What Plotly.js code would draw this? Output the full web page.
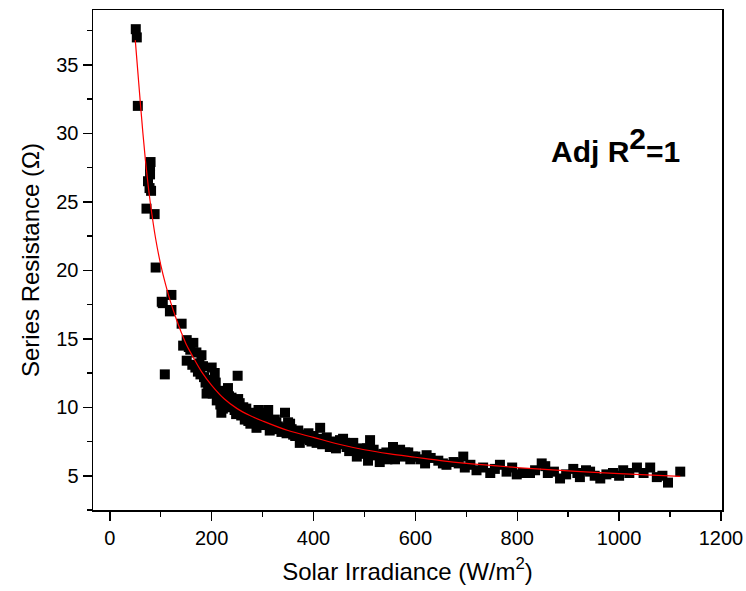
<!DOCTYPE html>
<html>
<head>
<meta charset="utf-8">
<script src="https://cdn.plot.ly/plotly-3.0.1.min.js"></script>
<style>html,body{margin:0;padding:0;background:#fff;}#chart{width:746px;height:591px;}</style>
</head>
<body>
<div id="chart"></div>
<script>
// Measured data: solar irradiance (W/m^2) vs series resistance (Ohm)
var irradiance = [51,53,55,72,75,78,79,79,80,81,88,90,102,104,108,118,121,121,141,144,151,151,155,164,170,173,176,180,185,190,193,197,200,204,206,210,214,219,223,228,232,236,239,245,251,255,258,262,265,265,270,276,280,284,288,292,295,300,305,311,314,318,324,330,337,344,347,350,354,360,367,373,380,386,393,400,406,413,420,426,432,440,447,452,458,465,472,478,485,492,500,507,511,518,525,530,537,543,550,556,565,573,580,586,595,610,619,622,630,645,654,661,675,685,694,697,708,720,733,747,756,766,779,790,799,811,825,835,848,855,860,872,884,896,910,918,923,935,943,952,963,975,988,1000,1008,1020,1035,1048,1061,1074,1085,1096,1120,
  158,162,168,178,183,188,195,202,208,212,217,222,226,230,234,242,248,252,260,268,272,278,286,290,297,303,308,316,322,327,334,340,357,364,370,377,390,396,410,417,436,444,462,470,482,496,505,515,532,545,560,570,590,600];
var resistance = [37.6,37.0,32.0,24.5,26.5,26.0,27.6,27.0,27.9,25.8,24.1,20.2,17.7,17.6,12.4,17.0,18.2,17.1,16.1,14.5,14.9,13.4,14.4,14.7,14.0,12.6,13.2,13.8,12.2,11.0,11.7,12.0,12.9,11.4,12.5,10.5,11.2,9.6,10.6,11.0,11.4,10.2,10.7,9.8,12.3,10.3,9.4,10.0,9.6,9.1,9.3,8.8,9.6,9.0,8.5,9.8,9.6,9.2,8.7,9.8,8.3,9.0,9.1,8.6,8.2,9.6,8.1,8.9,8.8,8.0,8.2,7.4,8.0,7.8,7.6,7.9,7.4,8.5,7.6,7.8,7.1,7.5,7.3,7.6,7.7,7.1,7.2,7.4,6.4,7.0,6.8,6.1,7.6,6.9,6.5,6.0,6.6,6.7,6.4,7.1,6.6,6.4,6.7,6.7,6.4,6.2,5.9,6.5,6.3,6.1,5.9,5.8,6.0,5.9,6.4,5.6,5.8,5.4,5.6,5.2,5.5,5.8,5.3,5.6,5.1,5.2,5.2,5.4,5.9,5.7,5.2,5.3,4.8,5.1,5.5,5.2,4.9,5.4,5.3,5.0,4.8,5.1,5.2,5.0,5.4,5.2,5.6,5.2,5.6,4.9,5.0,4.5,5.3,
  14.2,13.1,12.9,12.4,13.0,11.8,11.2,11.0,11.8,10.8,10.2,9.9,10.3,10.0,10.8,10.3,9.5,10.6,9.7,9.9,9.0,9.4,9.2,8.8,8.9,9.4,9.1,8.6,8.4,8.9,8.5,8.3,8.4,7.9,8.3,7.7,8.1,7.5,7.7,7.3,7.3,7.0,7.4,6.8,6.9,6.6,7.0,6.5,6.4,6.2,6.2,6.9,6.2,6.4];

// Fitted curve
var fitIrradiance = [50,55,60,65,70,75,80,90,100,110,120,130,140,150,160,180,200,225,250,275,300,350,400,450,500,550,600,650,700,800,900,1000,1120];
var fitResistance = [36.8,34.5,32.2,30.0,28.0,26.3,24.8,22.3,20.4,18.9,17.6,16.5,15.5,14.6,13.9,12.6,11.6,10.6,9.9,9.4,9.0,8.3,7.8,7.3,6.9,6.6,6.35,6.1,5.9,5.6,5.35,5.15,4.95];

var xTickVals = [0,200,400,600,800,1000,1200];
var yTickVals = [5,10,15,20,25,30,35];

var font = "'Liberation Sans', Arial, sans-serif";

var traces = [
  {
    x: irradiance, y: resistance, type: 'scatter', mode: 'markers',
    marker: {symbol: 'square', size: 10, color: '#000000', line: {width: 0}},
    hoverinfo: 'x+y'
  },
  {
    x: fitIrradiance, y: fitResistance, type: 'scatter', mode: 'lines',
    line: {color: '#ff0000', width: 1.2, shape: 'spline', smoothing: 1},
    hoverinfo: 'skip'
  }
];

var layout = {
  width: 746, height: 591,
  margin: {l: 93, r: 24, t: 10, b: 81},
  paper_bgcolor: '#ffffff', plot_bgcolor: '#ffffff',
  showlegend: false,
  font: {family: font, color: '#000000'},
  xaxis: {
    range: [-33, 1202], tickvals: xTickVals, ticktext: xTickVals.map(String),
    ticks: 'outside', ticklen: 9, tickwidth: 1.5, tickcolor: '#000',
    minor: {ticks: 'outside', ticklen: 5, tickwidth: 1.5, tickcolor: '#000', dtick: 100, tick0: 0, showgrid: false},
    showline: true, linecolor: '#000', linewidth: 1.5, mirror: true,
    showgrid: false, zeroline: false,
    tickfont: {family: font, size: 20, color: '#000'},
    title: {text: 'Solar Irradiance (W/m<sup>2</sup>)', font: {family: font, size: 24, color: '#000'}, standoff: 15},
    automargin: false
  },
  yaxis: {
    range: [2.5, 39], tickvals: yTickVals, ticktext: yTickVals.map(String),
    ticks: 'outside', ticklen: 9, tickwidth: 1.5, tickcolor: '#000',
    minor: {ticks: 'outside', ticklen: 5, tickwidth: 1.5, tickcolor: '#000', dtick: 2.5, tick0: 0, showgrid: false},
    showline: true, linecolor: '#000', linewidth: 1.5, mirror: true,
    showgrid: false, zeroline: false,
    tickfont: {family: font, size: 20, color: '#000'},
    title: {text: 'Series Resistance (\u03A9)', font: {family: font, size: 24, color: '#000'}, standoff: 10},
    automargin: false
  },
  annotations: [{
    xref: 'paper', yref: 'paper', x: (549 - 93) / 629, y: 1 - (145 - 10) / 500,
    xanchor: 'left', yanchor: 'middle', showarrow: false,
    text: '<b>Adj R<sup><span style="font-size:30px">2</span></sup>=1</b>',
    font: {family: font, size: 30, color: '#000'}
  }]
};

Plotly.newPlot('chart', traces, layout, {displayModeBar: false, staticPlot: true});
</script>
</body>
</html>
